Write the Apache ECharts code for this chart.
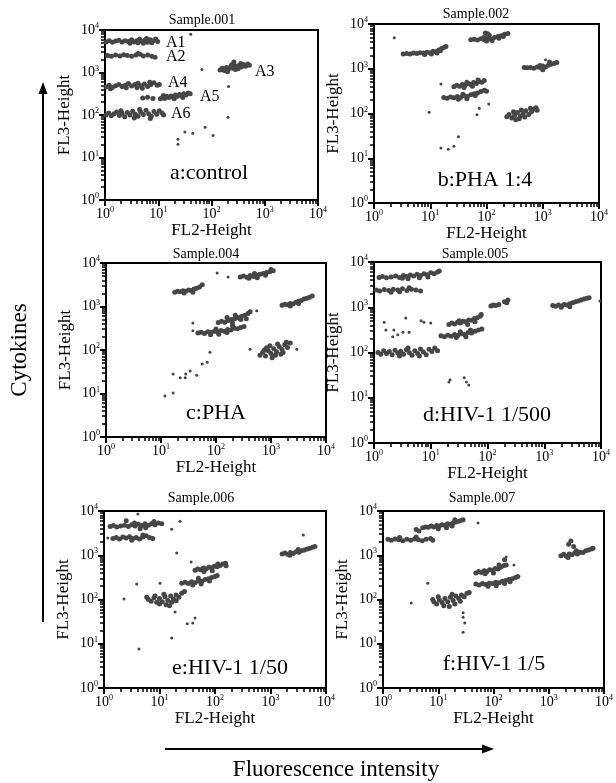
<!DOCTYPE html>
<html>
<head>
<meta charset="utf-8">
<script src="https://cdn.jsdelivr.net/npm/echarts@6/dist/echarts.min.js"></script>
<style>
  html, body { margin: 0; padding: 0; background: #fff; }
  #chart { width: 616px; height: 783px; }
</style>
</head>
<body>
<div id="chart"></div>
<script>
// values in decades (log10 units), as on the FACS axes
// panel a : control
const a1 = [[0.02,3.72],[0.08,3.75],[0.14,3.71],[0.2,3.74],[0.26,3.76],[0.32,3.72],[0.38,3.75],[0.44,3.73],[0.5,3.77],[0.55,3.72],[0.6,3.75],[0.65,3.78],[0.7,3.73],[0.75,3.76],[0.8,3.71],[0.85,3.77],[0.9,3.74],[0.95,3.79],[0.99,3.73],[0.72,3.69],[0.62,3.7],[0.88,3.7],[0.47,3.69],[0.78,3.8]];
const a2 = [[0.05,3.4],[0.12,3.38],[0.2,3.41],[0.28,3.39],[0.35,3.42],[0.42,3.4],[0.5,3.38],[0.58,3.41],[0.66,3.43],[0.72,3.39],[0.8,3.41],[0.88,3.38],[0.94,3.36],[0.62,3.45]];
const a3 = [[2.16,3.06],[2.2,3.1],[2.24,3.05],[2.28,3.12],[2.32,3.08],[2.36,3.14],[2.4,3.1],[2.44,3.16],[2.48,3.12],[2.52,3.17],[2.56,3.13],[2.6,3.19],[2.64,3.15],[2.68,3.2],[2.71,3.17],[2.3,3.02],[2.45,3.07],[2.55,3.21],[2.38,3.18],[2.5,3.09],[2.42,3.25]];
const a4 = [[0.02,2.66],[0.08,2.7],[0.14,2.65],[0.2,2.69],[0.26,2.72],[0.32,2.67],[0.38,2.7],[0.44,2.74],[0.5,2.68],[0.56,2.72],[0.62,2.75],[0.68,2.69],[0.74,2.73],[0.8,2.67],[0.86,2.72],[0.92,2.76],[0.98,2.7],[0.1,2.62],[0.4,2.64],[0.6,2.65],[0.84,2.77],[0.7,2.63],[1.02,2.72]];
const a5 = [[1.04,2.38],[1.08,2.42],[1.12,2.39],[1.16,2.44],[1.2,2.41],[1.24,2.45],[1.28,2.42],[1.32,2.47],[1.36,2.44],[1.4,2.48],[1.44,2.45],[1.48,2.5],[1.52,2.47],[1.56,2.52],[1.6,2.5],[1.1,2.46],[1.3,2.38],[1.46,2.41],[0.71,2.4],[0.8,2.42],[0.9,2.39]];
const a6 = [[0.02,2.0],[0.07,2.05],[0.12,1.98],[0.17,2.03],[0.22,2.07],[0.27,1.99],[0.32,2.04],[0.37,1.96],[0.42,2.06],[0.47,2.0],[0.52,2.09],[0.57,2.02],[0.62,1.97],[0.67,2.07],[0.72,2.01],[0.77,2.11],[0.82,2.03],[0.87,1.97],[0.92,2.08],[0.97,2.02],[1.02,2.1],[1.07,2.05],[1.1,2.0],[0.55,1.93],[0.85,1.92],[0.3,2.1],[0.65,2.13]];
const aOut = [[1.61,3.9],[1.82,3.07],[2.32,2.67],[2.31,1.95],[1.37,1.31],[1.37,1.43],[1.5,1.6],[1.65,1.57],[1.88,1.71],[2.03,1.52]];

// panel b : PHA 1:4
const b1 = [[0.52,3.33],[0.58,3.34],[0.64,3.33],[0.7,3.35],[0.76,3.34],[0.82,3.36],[0.88,3.35],[0.94,3.37],[1.0,3.36],[1.05,3.39],[1.1,3.38],[1.15,3.42],[1.2,3.45],[1.25,3.48],[1.28,3.5],[0.9,3.32],[1.02,3.33],[1.12,3.35],[1.18,3.4]];
const b2 = [[1.72,3.65],[1.78,3.66],[1.84,3.64],[1.9,3.67],[1.96,3.65],[2.02,3.68],[2.08,3.66],[2.14,3.7],[2.2,3.72],[2.26,3.74],[2.32,3.77],[2.38,3.79],[2.0,3.62],[2.1,3.63],[1.95,3.7],[2.05,3.75],[2.22,3.68],[2.3,3.72],[1.98,3.8],[2.02,3.78]];
const b3 = [[2.67,3.03],[2.72,3.02],[2.78,3.03],[2.84,3.01],[2.9,3.04],[2.96,3.02],[3.0,3.06],[3.05,3.04],[3.1,3.08],[3.15,3.1],[3.2,3.12],[3.25,3.14],[3.0,2.98],[2.95,3.07],[3.12,3.15]];
const b4 = [[1.42,2.6],[1.47,2.63],[1.52,2.61],[1.57,2.65],[1.62,2.63],[1.67,2.67],[1.72,2.65],[1.77,2.69],[1.82,2.67],[1.87,2.71],[1.92,2.7],[1.96,2.74],[1.6,2.58],[1.75,2.61],[1.85,2.75],[1.65,2.7]];
const b5 = [[1.24,2.36],[1.3,2.34],[1.36,2.37],[1.42,2.35],[1.48,2.38],[1.54,2.36],[1.6,2.4],[1.66,2.38],[1.72,2.42],[1.78,2.44],[1.84,2.46],[1.9,2.49],[1.96,2.52],[2.0,2.5],[1.5,2.32],[1.65,2.33],[1.8,2.4],[1.58,2.43]];
const b6 = [[2.36,1.93],[2.4,1.98],[2.45,1.9],[2.5,1.96],[2.55,2.02],[2.6,1.94],[2.65,2.0],[2.7,2.06],[2.75,1.98],[2.8,2.04],[2.85,2.1],[2.9,2.07],[2.48,2.04],[2.58,1.88],[2.68,1.92],[2.78,2.12],[2.88,2.13],[2.62,2.08],[2.52,1.86]];
const bOut = [[0.36,3.69],[3.05,3.2],[0.98,2.03],[1.19,2.66],[1.5,1.48],[1.19,1.23],[1.32,1.2],[1.42,1.27],[2.04,2.21],[1.87,2.12],[1.83,1.97]];

// panel c : PHA
const c1 = [[1.25,3.33],[1.3,3.35],[1.35,3.34],[1.4,3.36],[1.45,3.35],[1.5,3.38],[1.55,3.37],[1.6,3.4],[1.65,3.42],[1.7,3.45],[1.75,3.5],[1.42,3.31],[1.58,3.33]];
const c2 = [[2.44,3.68],[2.5,3.7],[2.56,3.67],[2.62,3.71],[2.68,3.69],[2.74,3.72],[2.8,3.74],[2.86,3.76],[2.92,3.78],[2.98,3.8],[3.04,3.82],[2.6,3.65],[2.75,3.66],[2.7,3.76],[2.9,3.72],[3.0,3.85]];
const c3 = [[3.2,3.03],[3.25,3.05],[3.3,3.04],[3.35,3.07],[3.4,3.06],[3.45,3.1],[3.5,3.12],[3.55,3.14],[3.6,3.17],[3.65,3.19],[3.7,3.21],[3.75,3.24],[3.35,3.01],[3.5,3.07]];
const c4 = [[2.04,2.63],[2.1,2.66],[2.16,2.64],[2.22,2.68],[2.28,2.7],[2.34,2.72],[2.4,2.74],[2.46,2.77],[2.52,2.8],[2.58,2.84],[2.2,2.75],[2.3,2.62],[2.45,2.7],[2.35,2.8],[2.55,2.72],[2.62,2.88]];
const c5 = [[1.67,2.39],[1.73,2.41],[1.79,2.38],[1.85,2.42],[1.91,2.4],[1.97,2.43],[2.03,2.41],[2.09,2.45],[2.15,2.43],[2.21,2.47],[2.27,2.46],[2.33,2.5],[2.39,2.49],[2.45,2.52],[2.51,2.54],[1.9,2.35],[2.05,2.36],[2.2,2.4],[2.0,2.48],[2.3,2.56]];
const c6 = [[2.8,1.88],[2.85,1.95],[2.9,1.86],[2.95,1.98],[3.0,1.92],[3.05,2.03],[3.1,1.96],[3.15,2.08],[3.2,2.01],[3.25,2.12],[3.3,2.06],[3.35,2.16],[2.92,2.05],[3.02,1.82],[3.12,2.14],[3.22,1.94],[3.08,1.88],[2.98,2.1],[3.18,1.9],[3.28,2.18],[2.88,2.0]];
const cOut = [[1.07,0.94],[1.22,1.01],[1.22,1.45],[1.35,1.36],[1.44,1.36],[1.45,1.45],[1.53,1.52],[1.65,1.42],[1.75,1.68],[1.84,1.72],[1.89,1.95],[1.58,2.62],[1.58,2.44],[2.02,3.77],[2.22,3.68],[2.62,2.02],[3.47,2.02],[2.74,2.9]];

// panel d : HIV-1 1/500
const d1 = [[0.09,3.66],[0.15,3.68],[0.22,3.65],[0.3,3.67],[0.38,3.69],[0.45,3.66],[0.52,3.7],[0.58,3.68],[0.64,3.71],[0.7,3.69],[0.76,3.73],[0.82,3.7],[0.88,3.74],[0.94,3.72],[1.0,3.76],[1.06,3.74],[1.12,3.78],[1.15,3.8],[0.6,3.63],[0.8,3.65],[0.95,3.67],[0.5,3.64]];
const d2 = [[0.04,3.38],[0.1,3.36],[0.18,3.39],[0.26,3.37],[0.34,3.4],[0.42,3.38],[0.5,3.41],[0.58,3.37],[0.66,3.4],[0.74,3.38],[0.82,3.36],[0.45,3.34],[0.62,3.43],[0.3,3.33]];
const d3 = [[3.15,3.04],[3.2,3.02],[3.25,3.05],[3.3,3.03],[3.35,3.06],[3.4,3.05],[3.45,3.08],[3.5,3.1],[3.55,3.12],[3.6,3.14],[3.65,3.16],[3.7,3.18],[3.75,3.2],[3.79,3.21],[3.3,3.0],[3.45,3.01]];
const d4 = [[1.32,2.62],[1.37,2.65],[1.42,2.63],[1.47,2.67],[1.52,2.65],[1.57,2.69],[1.62,2.68],[1.67,2.72],[1.72,2.71],[1.77,2.75],[1.82,2.77],[1.87,2.8],[1.89,2.84],[1.5,2.7],[1.65,2.62],[1.78,2.68]];
const d5 = [[1.18,2.37],[1.24,2.35],[1.3,2.38],[1.36,2.36],[1.42,2.4],[1.48,2.38],[1.54,2.42],[1.6,2.4],[1.66,2.44],[1.72,2.43],[1.78,2.47],[1.84,2.5],[1.9,2.52],[1.45,2.33],[1.62,2.35],[1.52,2.46],[1.7,2.5]];
const d6 = [[2.06,3.03],[2.1,3.05],[2.14,3.04],[2.2,3.06],[2.3,3.12],[2.36,3.16],[2.34,3.1]];
const d7 = [[0.07,2.0],[0.12,1.96],[0.17,2.04],[0.22,1.98],[0.27,2.02],[0.32,1.95],[0.37,2.05],[0.42,1.99],[0.47,2.03],[0.52,1.96],[0.57,2.06],[0.62,2.0],[0.67,1.94],[0.72,2.04],[0.77,1.98],[0.82,2.08],[0.87,2.01],[0.92,1.95],[0.97,2.07],[1.02,2.02],[1.07,2.1],[1.12,2.04],[0.6,2.1],[0.8,1.92],[0.45,1.92]];
const dOut = [[3.98,3.14],[0.18,2.67],[0.35,2.5],[0.42,2.39],[0.51,2.45],[0.56,2.76],[0.62,2.45],[0.83,2.7],[0.88,2.67],[1.0,2.65],[0.21,2.5],[0.33,2.35],[1.32,1.35],[1.34,1.4],[1.59,1.44],[1.67,1.28],[1.63,1.35]];

// panel e : HIV-1 1/50
const e1 = [[0.11,3.65],[0.17,3.67],[0.23,3.64],[0.3,3.66],[0.37,3.68],[0.44,3.65],[0.5,3.69],[0.56,3.66],[0.62,3.7],[0.68,3.67],[0.74,3.71],[0.8,3.68],[0.86,3.72],[0.92,3.69],[0.98,3.73],[1.04,3.71],[0.55,3.73],[0.75,3.62],[0.9,3.76],[0.65,3.6],[0.4,3.78]];
const e2 = [[0.16,3.38],[0.22,3.4],[0.28,3.37],[0.34,3.41],[0.4,3.39],[0.46,3.42],[0.52,3.38],[0.58,3.4],[0.64,3.37],[0.7,3.41],[0.76,3.44],[0.82,3.4],[0.88,3.38],[0.5,3.34],[0.7,3.46]];
const e3 = [[3.21,3.03],[3.26,3.05],[3.31,3.02],[3.36,3.06],[3.41,3.04],[3.46,3.08],[3.51,3.07],[3.56,3.1],[3.61,3.12],[3.66,3.14],[3.71,3.16],[3.76,3.18],[3.8,3.2],[3.35,3.0],[3.5,3.13]];
const e4 = [[1.64,2.66],[1.69,2.69],[1.74,2.67],[1.79,2.71],[1.84,2.69],[1.89,2.73],[1.94,2.72],[1.99,2.75],[2.04,2.74],[2.09,2.77],[2.14,2.8],[2.19,2.82],[1.8,2.63],[1.95,2.65],[2.05,2.8],[2.2,2.76]];
const e5 = [[1.4,2.37],[1.46,2.39],[1.52,2.36],[1.58,2.4],[1.64,2.38],[1.7,2.42],[1.76,2.41],[1.82,2.45],[1.88,2.47],[1.94,2.5],[2.0,2.52],[2.04,2.54],[1.6,2.33],[1.75,2.35],[1.7,2.48],[1.9,2.42]];
const e6 = [[0.8,2.0],[0.85,1.96],[0.9,2.04],[0.95,1.94],[1.0,2.02],[1.05,1.95],[1.1,2.06],[1.15,1.98],[1.2,2.08],[1.25,2.01],[1.3,2.1],[1.35,2.05],[1.4,2.14],[1.45,2.18],[1.0,1.9],[1.12,1.88],[1.22,1.94],[1.08,2.12],[0.92,2.08],[1.3,1.97],[0.77,2.05],[1.18,1.86]];
const eOut = [[0.61,3.93],[0.59,2.35],[0.36,2.01],[0.63,0.88],[1.22,1.13],[1.28,1.72],[1.5,1.45],[1.6,1.47],[1.64,1.58],[1.31,3.05],[1.37,3.77],[1.01,2.37],[3.59,3.46],[1.22,3.59],[1.57,2.85],[0.07,3.39]];

// panel f : HIV-1 1/5
const f1 = [[0.72,3.62],[0.77,3.64],[0.82,3.63],[0.87,3.66],[0.92,3.64],[0.97,3.67],[1.02,3.66],[1.07,3.69],[1.12,3.68],[1.17,3.71],[1.22,3.7],[1.27,3.73],[1.32,3.75],[1.37,3.77],[1.42,3.79],[1.45,3.8],[1.0,3.6],[1.15,3.62],[1.25,3.66],[1.3,3.8],[0.6,3.58],[0.65,3.55]];
const f2 = [[0.09,3.36],[0.15,3.34],[0.22,3.37],[0.29,3.35],[0.36,3.33],[0.43,3.36],[0.5,3.34],[0.57,3.37],[0.64,3.35],[0.71,3.33],[0.78,3.36],[0.86,3.38],[0.9,3.34],[0.3,3.4],[0.6,3.41]];
const f3 = [[3.22,2.99],[3.27,3.02],[3.32,2.98],[3.37,3.03],[3.42,3.01],[3.47,3.05],[3.52,3.03],[3.57,3.07],[3.62,3.06],[3.67,3.1],[3.72,3.12],[3.77,3.14],[3.8,3.16],[3.35,2.95],[3.5,3.1],[3.4,3.32],[3.36,3.25],[3.45,3.2]];
const f4 = [[1.68,2.6],[1.73,2.63],[1.78,2.61],[1.83,2.65],[1.88,2.63],[1.93,2.67],[1.98,2.66],[2.03,2.7],[2.08,2.69],[2.13,2.73],[2.18,2.76],[2.23,2.78],[1.85,2.58],[2.0,2.6],[2.1,2.78],[2.2,2.9]];
const f5 = [[1.68,2.35],[1.74,2.33],[1.8,2.36],[1.86,2.34],[1.92,2.37],[1.98,2.36],[2.04,2.39],[2.1,2.38],[2.16,2.41],[2.22,2.43],[2.28,2.45],[2.34,2.47],[2.4,2.5],[2.44,2.52],[1.9,2.3],[2.05,2.31],[2.2,2.36],[2.3,2.4]];
const f6 = [[0.92,1.95],[0.97,1.9],[1.02,1.99],[1.07,1.93],[1.12,2.02],[1.17,1.95],[1.22,2.05],[1.27,1.98],[1.32,2.08],[1.37,2.02],[1.42,2.1],[1.47,2.06],[1.52,2.14],[1.56,2.16],[1.1,1.86],[1.2,1.84],[1.3,1.9],[1.0,2.06],[1.4,1.96],[0.9,2.0],[1.25,2.12]];
const fOut = [[0.51,1.92],[0.81,2.37],[1.45,1.6],[1.48,1.47],[1.45,1.26],[1.72,3.73],[2.23,2.96],[2.37,2.78],[1.45,1.7]];

const clusters = [
  [a1, a2, a3, a4, a5, a6],
  [b1, b2, b3, b4, b5, b6],
  [c1, c2, c3, c4, c5, c6],
  [d1, d2, d3, d4, d5, d6, d7],
  [e1, e2, e3, e4, e5, e6],
  [f1, f2, f3, f4, f5, f6]
];
const outliers = [aOut, bOut, cOut, dOut, eOut, fOut];
const sampleNames = ['Sample.001', 'Sample.002', 'Sample.004', 'Sample.005', 'Sample.006', 'Sample.007'];
const panelLabels = ['a:control', 'b:PHA 1:4', 'c:PHA', 'd:HIV-1 1/500', 'e:HIV-1 1/50', 'f:HIV-1 1/5'];
const gateNames = ['A1', 'A2', 'A3', 'A4', 'A5', 'A6'];

// plot boxes [left, top, width, height]
const boxes = [[105, 30, 213, 170], [374, 24, 225, 179], [106, 263, 220, 174], [374, 262, 227, 181], [104, 511, 222, 177], [383, 511, 221, 177]];
const titlePos = [[202, 20], [476, 14], [206, 254], [475, 254], [201, 498], [482, 498]];
const labelPos = [[209, 173], [485, 180], [216, 413], [487, 415], [230, 668], [494, 664]];
const gatePos = [[166, 43], [166, 57], [255, 72], [168, 83], [200, 97], [171, 114]];

// log-spaced minor tick positions (2..9 x 10^n) in decade units
const minorTicks = [];
for (let n = 0; n < 4; n++) {
  for (let k = 2; k <= 9; k++) minorTicks.push(n + Math.log10(k));
}

const FONT = 'Liberation Serif';
const dotColor = '#464646';

const chart = echarts.init(document.getElementById('chart'));

const tickFmt = (v) => '{b|10}{s|' + v + '}';

const grids = [], xAxes = [], yAxes = [], series = [], graphics = [];

boxes.forEach((b, i) => {
  grids.push({
    left: b[0], top: b[1], width: b[2], height: b[3],
    show: true, borderColor: '#000', borderWidth: 2
  });
  // exponent axis: carries the data, the 10^n labels and the major ticks
  const common = {
    gridIndex: i, type: 'value', min: 0, max: 4, interval: 1,
    splitLine: { show: false },
    axisLine: { show: true, lineStyle: { color: '#000', width: 2 } },
    axisTick: { show: true, length: 6, lineStyle: { color: '#000', width: 2 } },
    nameLocation: 'middle',
    nameTextStyle: { fontFamily: FONT, fontSize: 17, color: '#000' },
    axisLabel: {
      formatter: tickFmt, color: '#000', margin: 6,
      rich: {
        b: { fontFamily: FONT, fontSize: 14, color: '#000' },
        s: { fontFamily: FONT, fontSize: 8, color: '#000', padding: [0, 0, 8, 0] }
      }
    }
  };
  xAxes.push(Object.assign({}, common, { position: 'bottom', name: 'FL2-Height', nameGap: 21 }));
  yAxes.push(Object.assign({}, common, { position: 'left', name: 'FL3-Height', nameGap: 32 }));

  series.push({
    type: 'scatter', xAxisIndex: i, yAxisIndex: i,
    data: [].concat(...clusters[i]),
    symbolSize: 5, silent: true,
    itemStyle: { color: dotColor, opacity: 1 }
  });
  series.push({
    type: 'scatter', xAxisIndex: i, yAxisIndex: i,
    data: outliers[i],
    symbolSize: 3, silent: true,
    itemStyle: { color: dotColor, opacity: 1 }
  });

  graphics.push({
    type: 'text', x: titlePos[i][0], y: titlePos[i][1],
    style: { text: sampleNames[i], font: '14px "' + FONT + '"', fill: '#000', textAlign: 'center', textVerticalAlign: 'middle' }
  });
  graphics.push({
    type: 'text', x: labelPos[i][0], y: labelPos[i][1], z: 10,
    style: { text: panelLabels[i], font: '22px "' + FONT + '"', fill: '#000', textAlign: 'center', textVerticalAlign: 'middle' }
  });
});

// second axis on each box, only for the log-spaced minor tick marks
boxes.forEach((b, i) => {
  const tickAxis = {
    gridIndex: i, type: 'value', min: 0, max: 4,
    axisLine: { show: false },
    axisLabel: { show: false },
    splitLine: { show: false },
    axisTick: { show: true, customValues: minorTicks, length: 4, lineStyle: { color: '#000', width: 1.5 } }
  };
  xAxes.push(Object.assign({}, tickAxis, { position: 'bottom', offset: 0 }));
  yAxes.push(Object.assign({}, tickAxis, { position: 'left', offset: 0 }));
});

gateNames.forEach((g, i) => {
  graphics.push({
    type: 'text', x: gatePos[i][0], y: gatePos[i][1], z: 10,
    style: { text: g, font: '16px "' + FONT + '"', fill: '#000', textAlign: 'left', textVerticalAlign: 'middle' }
  });
});

// outer axes: Cytokines / Fluorescence intensity
graphics.push(
  { type: 'line', shape: { x1: 43, y1: 622, x2: 43, y2: 92 }, style: { stroke: '#000', lineWidth: 2 } },
  { type: 'polygon', shape: { points: [[43, 82], [38.5, 94], [47.5, 94]] }, style: { fill: '#000' } },
  { type: 'line', shape: { x1: 165, y1: 749, x2: 484, y2: 749 }, style: { stroke: '#000', lineWidth: 2 } },
  { type: 'polygon', shape: { points: [[494, 749], [482, 744.5], [482, 753.5]] }, style: { fill: '#000' } },
  {
    type: 'text', x: 20, y: 350, rotation: Math.PI / 2,
    style: { text: 'Cytokines', font: '23px "' + FONT + '"', fill: '#000', textAlign: 'center', textVerticalAlign: 'middle' }
  },
  {
    type: 'text', x: 336, y: 770,
    style: { text: 'Fluorescence intensity', font: '23px "' + FONT + '"', fill: '#000', textAlign: 'center', textVerticalAlign: 'middle' }
  }
);

chart.setOption({
  backgroundColor: '#fff',
  animation: false,
  grid: grids,
  xAxis: xAxes,
  yAxis: yAxes,
  series: series,
  graphic: graphics
});
</script>
</body>
</html>
